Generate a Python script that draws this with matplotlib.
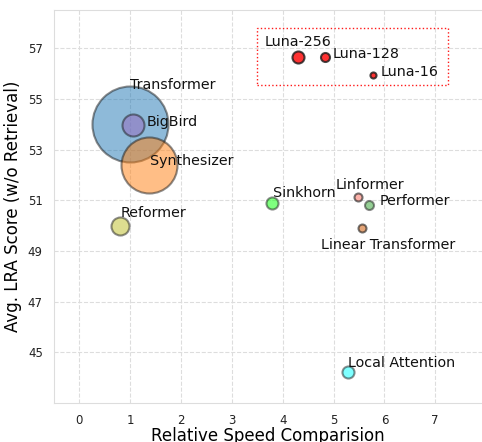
import numpy as np
import matplotlib.pyplot as plt
from matplotlib.patches import Rectangle

# data: speed, LRA score (w/o retrieval), memory bubble size
models = ["Transformer", "BigBird", "Synthesizer", "Reformer", "Sinkhorn",
          "Linformer", "Performer", "Linear Transformer", "Local Attention",
          "Luna-256", "Luna-128", "Luna-16"]
speed = [1.0, 1.06, 1.36, 0.79, 3.79, 5.49, 5.70, 5.56, 5.28, 4.30, 4.83, 5.78]
score = [54.0, 53.97, 52.4, 50.0, 50.9, 51.13, 50.82, 49.91, 44.24, 56.65, 56.65, 55.94]
mem = [2995, 251, 1626, 168, 75, 33, 42, 33, 75, 75, 42, 19]
colors = ["tab:blue", "tab:purple", "tab:orange", "tab:olive", "lime",
          "salmon", "tab:green", "chocolate", "cyan", "red", "red", "red"]
alphas = [0.5, 0.5, 0.5, 0.5, 0.5, 0.6, 0.5, 0.6, 0.5, 0.8, 0.8, 0.8]

# label offsets from the bubble centre (pixels, right / up)
label_off = {"Transformer": (0, 35), "BigBird": (13, -1), "Synthesizer": (1, 0),
             "Reformer": (1, 9), "Sinkhorn": (1, 6), "Linformer": (-23, 8),
             "Performer": (10, 0), "Linear Transformer": (-41, -21),
             "Local Attention": (0, 5), "Luna-256": (-33, 11), "Luna-128": (8, -1),
             "Luna-16": (7, -1)}

fig = plt.figure(figsize=(4.82, 4.42), dpi=100)
ax = fig.add_axes([0.112, 0.088, 0.888, 0.889])

for i in range(len(models)):
    ax.scatter(speed[i], score[i], s=mem[i], c=colors[i], alpha=alphas[i],
               edgecolors=(0.1, 0.1, 0.1), linewidths=1.5, zorder=3)

for i, m in enumerate(models):
    dx, dy = label_off[m]
    ax.annotate(m, (speed[i], score[i]), xytext=(dx * 0.72, dy * 0.72),
                textcoords="offset points", fontsize=10.3, color="#111111",
                ha="left", va="baseline", zorder=4)

ax.add_patch(Rectangle((3.5, 55.55), 3.75, 2.25, fill=False, edgecolor="red",
                       linestyle=":", linewidth=1.0, alpha=0.9, zorder=2))

ax.set_xlim(-0.5, 7.92)
ax.set_ylim(43, 58.5)
ax.set_xticks(range(0, 8))
ax.set_yticks([45, 47, 49, 51, 53, 55, 57])
ax.tick_params(labelsize=8.5, length=0, pad=8, colors="#222222")
ax.grid(True, linestyle="--", color="#dddddd", linewidth=0.8)
ax.set_axisbelow(True)
for sp in ax.spines.values():
    sp.set_color("#dddddd")
ax.spines["right"].set_visible(False)
ax.set_xlabel("Relative Speed Comparision", fontsize=12, labelpad=0)
ax.set_ylabel("Avg. LRA Score (w/o Retrieval)", fontsize=12, labelpad=4)

plt.savefig("out.png", dpi=100)
